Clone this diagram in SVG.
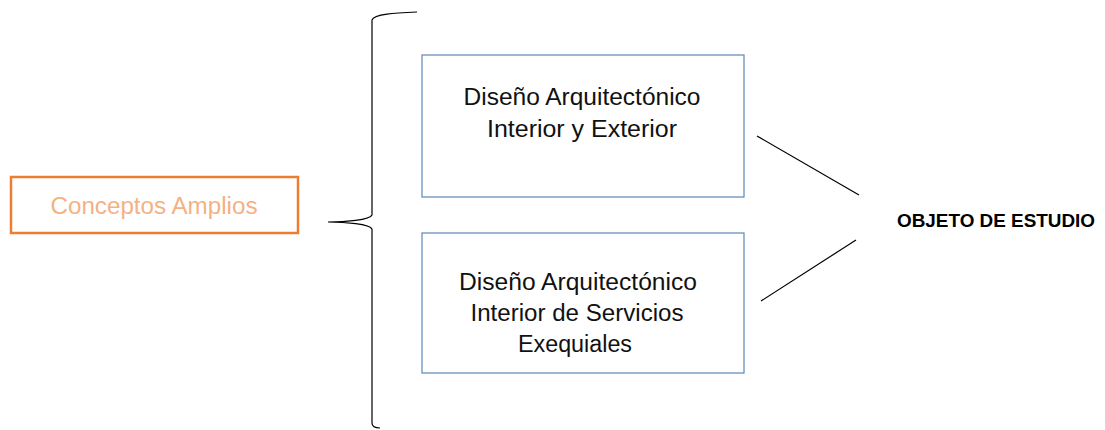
<svg xmlns="http://www.w3.org/2000/svg" width="1105" height="430" viewBox="0 0 1105 430">
<style>
.box{fill:#fff;stroke:#5B87B8;stroke-width:1.2}
.t{font-family:"Liberation Sans",Arial,sans-serif;font-size:23px;fill:#111;text-anchor:middle}
.ln{fill:none;stroke:#000;stroke-width:1.2}
</style>
<rect width="1105" height="430" fill="#fff"/>
<g id="conceptos">
<rect x="11" y="177" width="287" height="56" fill="#fff" stroke="#ED7D31" stroke-width="2.5"/>
<text x="154" y="214" font-family="Liberation Sans,Arial,sans-serif" font-size="23px" fill="#F4B183" text-anchor="middle" textLength="207" lengthAdjust="spacingAndGlyphs">Conceptos Amplios</text>
</g>
<g id="box1">
<rect class="box" x="422" y="55" width="322" height="142"/>
<text class="t" x="582" y="105" textLength="237" lengthAdjust="spacingAndGlyphs">Diseño Arquitectónico</text>
<text class="t" x="582" y="137" textLength="190" lengthAdjust="spacingAndGlyphs">Interior y Exterior</text>
</g>
<g id="box2">
<rect class="box" x="422" y="233" width="322" height="140"/>
<text class="t" x="578" y="290" textLength="238" lengthAdjust="spacingAndGlyphs">Diseño Arquitectónico</text>
<text class="t" x="577" y="321" textLength="213" lengthAdjust="spacingAndGlyphs">Interior de Servicios</text>
<text class="t" x="575" y="352" textLength="114" lengthAdjust="spacingAndGlyphs">Exequiales</text>
</g>
<g id="objeto">
<text x="996" y="227" font-family="Liberation Sans,Arial,sans-serif" font-size="19px" font-weight="bold" fill="#000" text-anchor="middle" textLength="198" lengthAdjust="spacingAndGlyphs">OBJETO DE ESTUDIO</text>
</g>
<g id="connectors">
<path class="ln" d="M417,12 C395,13 374,14 372,20 L372,215 C370,220 345,222 328,222 C345,222 370,224 372,229 L372,423 C372,427 376,428 380,428"/>
<line class="ln" x1="757" y1="136" x2="859" y2="195"/>
<line class="ln" x1="761" y1="301" x2="856" y2="240"/>
</g>
</svg>
